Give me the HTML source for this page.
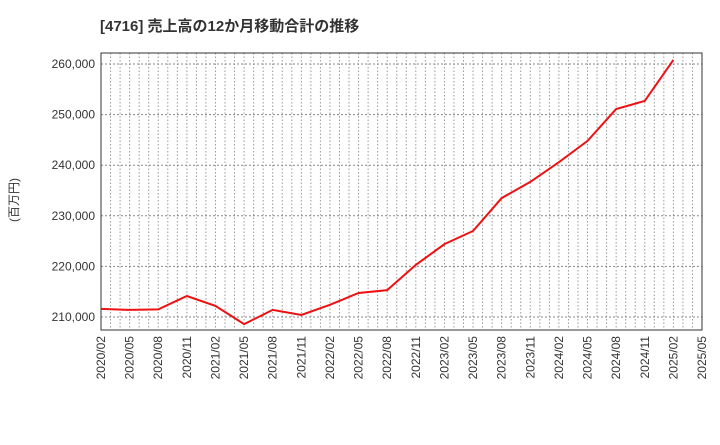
<!DOCTYPE html>
<html><head><meta charset="utf-8"><style>
body{margin:0;background:#fff;}
svg{font-family:"Liberation Sans","Noto Sans CJK JP",sans-serif;}
</style></head><body>
<svg id="c" width="720" height="440" xmlns="http://www.w3.org/2000/svg">
<text x="100" y="31" font-size="15" font-weight="bold" fill="#333">[4716]  売上高の12か月移動合計の推移</text>
<text transform="translate(18,200) rotate(-90)" font-size="12" fill="#333" text-anchor="middle">(百万円)</text>
<g id="grid"></g><g id="axes"></g><g id="series"></g>
</svg>
<script>
const categories=["2020/02","2020/05","2020/08","2020/11","2021/02","2021/05","2021/08","2021/11","2022/02","2022/05","2022/08","2022/11","2023/02","2023/05","2023/08","2023/11","2024/02","2024/05","2024/08","2024/11","2025/02"];
const tickLabels=["2020/02","2020/05","2020/08","2020/11","2021/02","2021/05","2021/08","2021/11","2022/02","2022/05","2022/08","2022/11","2023/02","2023/05","2023/08","2023/11","2024/02","2024/05","2024/08","2024/11","2025/02","2025/05"];
const salesValues=[211600,211400,211500,214150,212200,208600,211400,210400,212400,214750,215300,220300,224400,227000,233500,236700,240600,244800,251100,252700,260800];
const yTicks=[210000,220000,230000,240000,250000,260000];
const L=101,R=702,T=53,B=330;
const x=i=>L+(R-L)*i/21;
const y=v=>64+(260000-v)*253/50000;
const ns="http://www.w3.org/2000/svg";
function mk(tag,attrs,parent,text){const e=document.createElementNS(ns,tag);for(const k in attrs)e.setAttribute(k,attrs[k]);if(text!==undefined)e.textContent=text;document.getElementById(parent).appendChild(e);return e;}
for(let m=1;m<63;m++){const xx=L+(R-L)*m/63;const g=mk('line',{x1:xx,x2:xx,y1:T,y2:B,stroke:'#999','stroke-dasharray':'1.5,2','stroke-width':1},'grid');

}
yTicks.forEach(v=>{const g=mk('line',{x1:L,x2:R,y1:y(v),y2:y(v),stroke:'#888','stroke-dasharray':'2,2','stroke-width':1},'grid');


const t=mk('text',{x:L-6,y:y(v)+4,'font-size':12,'text-anchor':'end',fill:'#333'},'axes',v.toLocaleString('en-US'));

});
tickLabels.forEach((lb,i)=>{const t=mk('text',{transform:`translate(${x(i)+4},${B+6}) rotate(-90)`,'font-size':12,'text-anchor':'end',fill:'#333'},'axes',lb);

});
const f=mk('rect',{x:L,y:T,width:R-L,height:B-T,fill:'none',stroke:'#333','stroke-width':1},'axes');


const p=mk('polyline',{points:salesValues.map((v,i)=>x(i)+','+y(v)).join(' '),fill:'none',stroke:'#ee1111','stroke-width':2},'series');


</script>
</body></html>
